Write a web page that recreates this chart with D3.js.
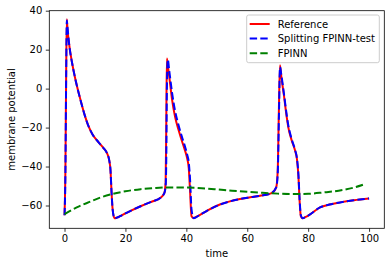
<!DOCTYPE html>
<html>
<head>
<meta charset="utf-8">
<script src="https://cdn.jsdelivr.net/npm/d3@7"></script>
<style>
  body { margin: 0; background: #fff; }
  text { font-family: "DejaVu Sans", sans-serif; font-size: 10px; fill: #000; }
</style>
</head>
<body>
<div id="chart"></div>
<script>
// time samples shared by the reference and the splitting FPINN curves
const time = [0, 0.3, 0.55, 0.75, 0.95, 1.5, 2.5, 3.4, 5.1, 6.7, 7.8, 9.2, 10.6, 11.7, 12.8, 13.9, 14.7, 15.1, 15.4, 15.8, 16.4, 17.2, 18.2, 20, 22, 24.8, 27, 29, 31.4, 32.8, 33.2, 33.4, 33.6, 33.9, 34.4, 35.3, 36.3, 37.4, 38.5, 39.6, 40.3, 40.8, 41.2, 41.7, 42.4, 43.4, 44.5, 47, 51, 54, 57.6, 61, 64.2, 68, 69.5, 70.0, 70.4, 70.75, 71.2, 72, 73, 73.5, 74.6, 75.7, 76.3, 76.8, 77.2, 77.6, 78.2, 79, 80, 83.9, 87, 90.5, 95, 100];
const reference = [-65, -40, 10, 35.6, 31, 23, 13, 6, -5, -14, -19, -23.5, -26.5, -28.5, -30.5, -33, -37, -42, -52, -62, -66.5, -66.2, -65.5, -64, -62.5, -60.5, -59, -57.8, -56.2, -53.5, -48, -20, 15.5, 12, 6, -5.5, -14.5, -21, -26.6, -32, -36, -41, -52, -65.5, -66.4, -65.7, -64.8, -62.5, -59.5, -58, -56.7, -55.8, -55, -53.6, -50.7, -42, -10, 12, 6, -3, -15, -20, -26.6, -31.8, -36, -45, -58, -65.5, -66.5, -66, -65.2, -61, -59.5, -58.4, -57.3, -56.4];
const splitting = [-65, -42, 8, 35, 32, 23, 13, 6, -5, -14, -19, -23.5, -26.5, -28.5, -30.5, -33, -37, -42, -52, -62, -66.5, -66.2, -65.5, -64, -62.5, -60.5, -59, -57.8, -56.2, -53.5, -50, -38, -2, 15, 9, -2, -11.5, -18.5, -24.5, -30, -34, -38, -46, -62, -66.5, -65.8, -64.8, -62.5, -59.5, -58, -56.7, -55.8, -55, -53.6, -50.7, -44, -14, 11, 7, -2, -14, -19, -26, -31.5, -35.5, -44, -57, -65, -66.5, -66, -65.2, -61, -59.5, -58.4, -57.3, -56.4];

const fpinnTime = [0, 4, 8, 12, 16, 20, 25, 30, 35, 40, 45, 50, 55, 60, 65, 70, 75, 80, 85, 90, 95, 98];
const fpinn = [-64.4, -61, -58.3, -55.8, -54, -52.7, -51.6, -51, -50.7, -50.8, -51.1, -51.7, -52.4, -53, -53.5, -53.9, -54.1, -54, -53.3, -52.4, -50.8, -49.3];

const xTicks = [0, 20, 40, 60, 80, 100];
const yTicks = [-60, -40, -20, 0, 20, 40];

const series = [
    { name: "Reference", t: time, v: reference, color: "red", dash: null },
    { name: "Splitting FPINN-test", t: time, v: splitting, color: "blue", dash: "7.4,3.2" },
    { name: "FPINN", t: fpinnTime, v: fpinn, color: "green", dash: "7.4,3.2" }
];

const margin = { top: 10.7, right: 6.7, bottom: 37.7, left: 49.3 };
const width = 391 - margin.left - margin.right;
const height = 266 - margin.top - margin.bottom;

const svg = d3.select("#chart")
    .append("svg")
    .attr("width", 391)
    .attr("height", 266)
    .append("g")
    .attr("transform", `translate(${margin.left},${margin.top})`);

const xScale = d3.scaleLinear().domain([-5, 105]).range([0, width]);
const yScale = d3.scaleLinear().domain([-71.7, 40]).range([height, 0]);

const fmt = d => d < 0 ? "\u2212" + Math.abs(d) : "" + d;

const xAxis = svg.append("g")
    .attr("transform", `translate(0,${height})`)
    .call(d3.axisBottom(xScale).tickValues(xTicks).tickFormat(fmt).tickSize(3.5).tickPadding(3.5));
const yAxis = svg.append("g")
    .call(d3.axisLeft(yScale).tickValues(yTicks).tickFormat(fmt).tickSize(3.5).tickPadding(3.5));

[xAxis, yAxis].forEach(a => {
    a.select(".domain").remove();
    a.selectAll("line").attr("stroke", "#000").attr("stroke-width", 0.8);
    a.selectAll("text").style("font-size", "10px").attr("fill", "#000");
});

const line = d3.line()
    .x(d => xScale(d[0]))
    .y(d => yScale(d[1]))
    .curve(d3.curveMonotoneX);

series.forEach(s => {
    svg.append("path")
        .datum(s.t.map((t, i) => [t, s.v[i]]))
        .attr("fill", "none")
        .attr("stroke", s.color)
        .attr("stroke-width", 2)
        .attr("stroke-dasharray", s.dash)
        .attr("d", line);
});

// frame
svg.append("rect")
    .attr("width", width)
    .attr("height", height)
    .attr("fill", "none")
    .attr("stroke", "#000")
    .attr("stroke-width", 0.8);

// legend
const legend = svg.append("g")
    .attr("transform", `translate(${246.7 - margin.left},${15 - margin.top})`);

legend.append("rect")
    .attr("width", 132.6)
    .attr("height", 47.7)
    .attr("rx", 2)
    .attr("fill", "#fff")
    .attr("fill-opacity", 0.8)
    .attr("stroke", "#cccccc")
    .attr("stroke-width", 1);

series.forEach((s, i) => {
    const y = 9 + i * 14.6;
    legend.append("line")
        .attr("x1", 3)
        .attr("x2", 23)
        .attr("y1", y)
        .attr("y2", y)
        .attr("stroke", s.color)
        .attr("stroke-width", 2)
        .attr("stroke-dasharray", s.dash);
    legend.append("text")
        .attr("x", 31)
        .attr("y", y)
        .attr("dy", "0.35em")
        .text(s.name);
});

svg.append("text")
    .attr("x", width / 2)
    .attr("y", height + 29)
    .attr("text-anchor", "middle")
    .text("time");

svg.append("text")
    .attr("x", -height / 2)
    .attr("y", -margin.left + 15)
    .attr("text-anchor", "middle")
    .attr("transform", "rotate(-90)")
    .text("membrane potential");
</script>
</body>
</html>
